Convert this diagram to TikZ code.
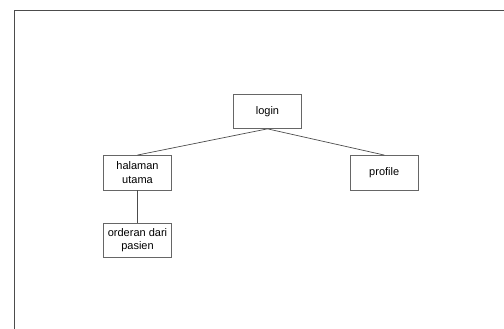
\documentclass[tikz,border=0pt]{standalone}
\usepackage{fontspec}
\setmainfont{Liberation Sans}
\begin{document}
\begin{tikzpicture}[x=1pt,y=-1pt,
  menubox/.style={draw=black!60, line width=0.8pt, fill=white, minimum width=68pt, minimum height=34.5pt,
    inner sep=1pt, align=center, font=\fontsize{11}{13.5}\selectfont},
  link/.style={draw=black!70, line width=0.7pt}]
  \useasboundingbox (0,0) rectangle (504,329);
  % page frame (top and left edges)
  \draw[black!70, line width=1pt] (504,10.3) -- (14.5,10.3) -- (14.5,329);
  % menu nodes
  \node[menubox] (login) at (267.5,111.2) {login};
  \node[menubox] (utama) at (137.5,172.7) {halaman\\utama};
  \node[menubox] (profile) at (384.2,172.7) {profile};
  \node[menubox] (order) at (137.5,240.3) {orderan dari\\pasien};
  % connectors
  \draw[link] (login.south) -- (utama.north);
  \draw[link] (login.south) -- (profile.north);
  \draw[link] (utama.south) -- (order.north);
\end{tikzpicture}
\end{document}
